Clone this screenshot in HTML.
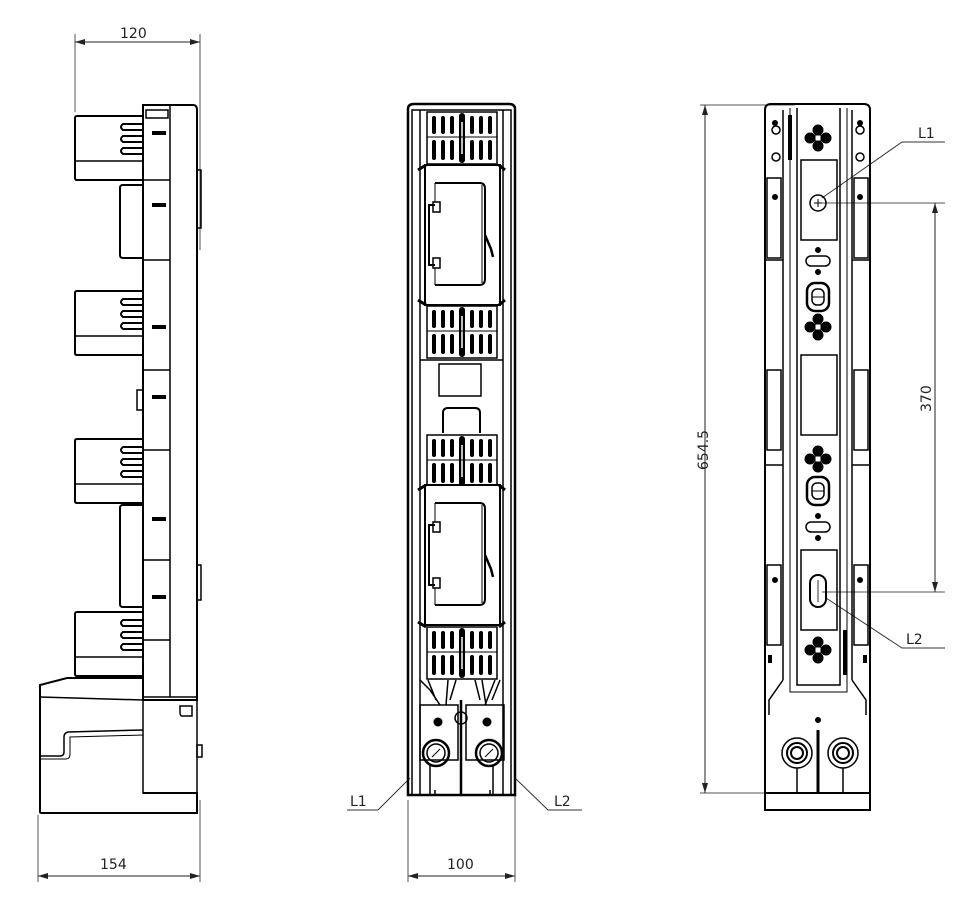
<!DOCTYPE html>
<html><head><meta charset="utf-8"><style>
html,body{margin:0;padding:0;background:#fff}
svg{display:block}
text{font-family:"DejaVu Sans","Liberation Sans",sans-serif;font-size:14px;fill:#222}
</style></head><body>
<svg width="976" height="900" viewBox="0 0 976 900" xmlns="http://www.w3.org/2000/svg">
<defs>
<marker id="ar" markerWidth="10" markerHeight="6" refX="10" refY="3" orient="auto-start-reverse" markerUnits="userSpaceOnUse"><path d="M0,0 L10,3 L0,6 z" fill="#222"/></marker>
<g id="grid">
 <rect x="0" y="0" width="70" height="52" fill="none" stroke="#000" stroke-width="1.5"/>
 <g stroke="#000" stroke-width="4" stroke-linecap="round">
  <line x1="7" y1="6" x2="7" y2="20"/><line x1="7" y1="30" x2="7" y2="46"/>
  <line x1="16" y1="6" x2="16" y2="20"/><line x1="16" y1="30" x2="16" y2="46"/>
  <line x1="25" y1="6" x2="25" y2="20"/><line x1="25" y1="30" x2="25" y2="46"/>
  <line x1="35" y1="4" x2="35" y2="48" stroke-width="6"/>
  <line x1="45" y1="6" x2="45" y2="20"/><line x1="45" y1="30" x2="45" y2="46"/>
  <line x1="54" y1="6" x2="54" y2="20"/><line x1="54" y1="30" x2="54" y2="46"/>
  <line x1="63" y1="6" x2="63" y2="20"/><line x1="63" y1="30" x2="63" y2="46"/>
 </g>
 <line x1="35" y1="10" x2="35" y2="42" stroke="#fff" stroke-width="1.5"/>
 <line x1="0" y1="25" x2="70" y2="25" stroke="#000" stroke-width="1"/>
</g>
<g id="win">
 <rect x="0" y="0" width="75" height="140" fill="#fff" stroke="#000" stroke-width="2"/>
 <path d="M10,18 H55 Q60,18 60,24 V114 Q60,120 54,120 H10" fill="none" stroke="#000" stroke-width="2"/>
 <line x1="57" y1="20" x2="57" y2="118" stroke="#000" stroke-width="1"/>
 <path d="M10,40 H4 V100 H10" fill="none" stroke="#000" stroke-width="2"/>
 <rect x="8" y="37" width="7" height="10" fill="none" stroke="#000" stroke-width="1.5"/>
 <rect x="8" y="93" width="7" height="10" fill="none" stroke="#000" stroke-width="1.5"/>
 <line x1="10" y1="18" x2="10" y2="37" stroke="#000" stroke-width="1"/>
 <line x1="10" y1="103" x2="10" y2="120" stroke="#000" stroke-width="1"/>
 <path d="M60,70 L66,84 L68,92" fill="none" stroke="#000" stroke-width="2.5"/>
</g>
<g id="block">
 <path d="M2,0 H68 V64 H2 Q0,64 0,62 V2 Q0,0 2,0 Z" fill="#fff" stroke="#000" stroke-width="2"/>
 <line x1="0" y1="45" x2="68" y2="45" stroke="#000" stroke-width="1.5"/>
 <g fill="none" stroke="#000" stroke-width="2">
  <path d="M68,8 H48 Q44,11 48,14 H68"/>
  <path d="M68,20 H48 Q44,23 48,26 H68"/>
  <path d="M68,32 H48 Q44,35 48,38 H68"/>
 </g>
</g>
<g id="clover">
 <circle cx="0" cy="-8" r="5" fill="#000"/><circle cx="0" cy="8" r="5" fill="#000"/>
 <circle cx="-8" cy="0" r="5" fill="#000"/><circle cx="8" cy="0" r="5" fill="#000"/>
 <rect x="-3" y="-3" width="6" height="6" fill="#fff"/>
</g>
</defs>

<g fill="none" stroke="#000" stroke-width="1">
<!-- ============ LEFT VIEW ============ -->
<line x1="75" y1="34" x2="75" y2="112" stroke="#555"/>
<line x1="200" y1="34" x2="200" y2="250" stroke="#555"/>
<line x1="75" y1="42" x2="200" y2="42" stroke="#222" marker-start="url(#ar)" marker-end="url(#ar)"/>
<line x1="38" y1="815" x2="38" y2="882" stroke="#555"/>
<line x1="200" y1="800" x2="200" y2="882" stroke="#555"/>
<line x1="38" y1="876" x2="200" y2="876" stroke="#222" marker-start="url(#ar)" marker-end="url(#ar)"/>

<path d="M143,105 H193 Q197,105 197,110 V700 H143 Z" stroke-width="2"/>
<line x1="170" y1="105" x2="170" y2="697" stroke-width="1.5"/>
<rect x="146" y="110" width="22" height="8" stroke-width="1.5"/>
<path d="M197,170 H201 V228 H197" stroke-width="1.5"/>
<path d="M197,565 H201 V600 H197" stroke-width="1.5"/>
<g stroke-width="1.5">
 <line x1="143" y1="180" x2="170" y2="180"/><line x1="143" y1="260" x2="170" y2="260"/>
 <line x1="143" y1="370" x2="170" y2="370"/><line x1="143" y1="450" x2="170" y2="450"/>
 <line x1="143" y1="560" x2="170" y2="560"/><line x1="143" y1="640" x2="170" y2="640"/>
</g>
<g fill="#000" stroke="none">
 <rect x="152" y="131" width="14" height="4"/><rect x="152" y="203" width="14" height="4"/>
 <rect x="152" y="325" width="14" height="4"/><rect x="152" y="395" width="14" height="4"/>
 <rect x="152" y="517" width="14" height="4"/><rect x="152" y="595" width="14" height="4"/>
</g>
<use href="#block" x="75" y="116"/>
<use href="#block" x="75" y="291"/>
<use href="#block" x="75" y="439"/>
<use href="#block" x="75" y="612"/>
<path d="M143,185 H123 Q120,185 120,188 V255 Q120,258 123,258 H143" stroke-width="2"/>
<path d="M143,505 H123 Q120,505 120,508 V604 Q120,607 123,607 H143" stroke-width="2"/>
<rect x="137" y="390" width="6" height="20" stroke-width="1.5"/>
<!-- base -->
<path d="M143,678 H67 L40,685 V812 Q40,813 42,813 H197 V793 H143" stroke-width="2"/>
<line x1="40" y1="697" x2="143" y2="700" stroke-width="1.5"/>
<path d="M143,730 L68,732 Q64,733 64,737 V752 Q64,756 60,756 H40" stroke-width="1.5"/>
<path d="M143,735 L70,737 V754 Q70,759 66,759 H40" stroke-width="1"/>
<rect x="143" y="697" width="54" height="96" stroke-width="1.5"/>
<path d="M180,706 H192 V716 H182 Q180,716 180,712 Z" stroke-width="1.5"/>
<rect x="197" y="745" width="5" height="12" stroke-width="1.5"/>

<!-- ============ MIDDLE VIEW ============ -->
<line x1="408" y1="800" x2="408" y2="882" stroke="#555"/>
<line x1="515" y1="790" x2="515" y2="882" stroke="#555"/>
<line x1="408" y1="876" x2="515" y2="876" stroke="#222" marker-start="url(#ar)" marker-end="url(#ar)"/>
<path d="M347,810 H378 L410,778" stroke="#333"/>
<path d="M582,810 H548 L515,778" stroke="#333"/>

<path d="M408,109 Q408,104 414,104 H509 Q515,104 515,109 V795 H408 Z" stroke-width="2.5"/>
<rect x="412" y="110" width="99" height="685" stroke-width="1.5"/>
<line x1="420" y1="110" x2="420" y2="795" stroke-width="1.5"/>
<line x1="503" y1="110" x2="503" y2="795" stroke-width="1.5"/>
<use href="#grid" x="427" y="112"/>
<use href="#grid" x="427" y="306"/>
<use href="#grid" x="427" y="435"/>
<use href="#grid" x="427" y="627"/>
<use href="#win" x="425" y="165"/>
<use href="#win" x="425" y="485"/>
<g stroke-width="3">
 <line x1="418" y1="170" x2="426" y2="165"/><line x1="505" y1="170" x2="499" y2="165"/>
 <line x1="418" y1="300" x2="426" y2="305"/><line x1="505" y1="300" x2="499" y2="305"/>
 <line x1="418" y1="490" x2="426" y2="485"/><line x1="505" y1="490" x2="499" y2="485"/>
 <line x1="418" y1="622" x2="426" y2="627"/><line x1="505" y1="622" x2="499" y2="627"/>
</g>
<rect x="439" y="364" width="42" height="32" stroke-width="1.5"/>
<path d="M443,433 V413 Q443,408 448,408 H475 Q480,408 480,413 V433" stroke-width="2"/>
<line x1="420" y1="360" x2="503" y2="360" stroke-width="1.5"/>
<!-- terminals -->
<g stroke-width="1.5">
 <path d="M420,680 L430,690 L440,705 M428,680 L436,700 M448,680 L446,705 M456,680 L450,700"/>
 <path d="M475,680 L480,700 M482,680 L486,705 M500,680 L492,700 M495,680 L485,705"/>
 <rect x="420" y="705" width="38" height="55"/><rect x="466" y="705" width="38" height="55"/>
 <line x1="461" y1="700" x2="461" y2="795" stroke-width="2.5"/>
 <line x1="435" y1="790" x2="435" y2="795"/><line x1="490" y1="790" x2="490" y2="795"/>
</g>
<circle cx="438" cy="722" r="4" fill="#000"/><circle cx="487" cy="722" r="4" fill="#000"/>
<circle cx="461" cy="718" r="6" stroke-width="1.5"/>
<circle cx="436" cy="753" r="13" stroke-width="2.5"/><circle cx="436" cy="753" r="9" stroke-width="1.5"/>
<circle cx="489" cy="753" r="13" stroke-width="2.5"/><circle cx="489" cy="753" r="9" stroke-width="1.5"/>
<line x1="432" y1="757" x2="440" y2="749"/><line x1="485" y1="757" x2="493" y2="749"/>
<line x1="430" y1="765" x2="430" y2="795" stroke-width="1.5"/><line x1="493" y1="765" x2="493" y2="795" stroke-width="1.5"/>

<!-- ============ RIGHT VIEW ============ -->
<line x1="700" y1="105" x2="795" y2="105" stroke="#555"/>
<line x1="700" y1="793" x2="765" y2="793" stroke="#555"/>
<line x1="705" y1="105" x2="705" y2="793" stroke="#222" marker-start="url(#ar)" marker-end="url(#ar)"/>
<line x1="822" y1="203" x2="945" y2="203" stroke="#555"/>
<line x1="822" y1="592" x2="945" y2="592" stroke="#555"/>
<line x1="935" y1="203" x2="935" y2="592" stroke="#222" marker-start="url(#ar)" marker-end="url(#ar)"/>
<path d="M945,142 H902 L822,198" stroke="#333"/>
<path d="M945,648 H902 L826,598" stroke="#333"/>

<path d="M765,110 Q765,104 771,104 H864 Q870,104 870,110 V810 H765 Z" stroke-width="2"/>
<line x1="765" y1="793" x2="870" y2="793" stroke-width="2"/>
<line x1="783" y1="110" x2="783" y2="680" stroke-width="1.5"/>
<line x1="852" y1="110" x2="852" y2="680" stroke-width="1.5"/>
<path d="M783,680 L769,700 V715 M852,680 L866,700 V715" stroke-width="1.5"/>
<path d="M797,108 V685 H840 V108" stroke-width="1.5"/>
<path d="M790,108 V692 H847 V108" stroke-width="1"/>
<g stroke-width="1.5">
 <rect x="767" y="178" width="14" height="80"/><rect x="854" y="178" width="14" height="80"/>
 <rect x="767" y="370" width="14" height="80"/><rect x="854" y="370" width="14" height="80"/>
 <rect x="767" y="565" width="14" height="80"/><rect x="854" y="565" width="14" height="80"/>
 <line x1="765" y1="260" x2="783" y2="260"/><line x1="852" y1="260" x2="870" y2="260"/>
 <line x1="765" y1="465" x2="783" y2="465"/><line x1="852" y1="465" x2="870" y2="465"/>
 <rect x="801" y="160" width="36" height="80"/>
 <rect x="801" y="355" width="36" height="80"/>
 <rect x="801" y="550" width="36" height="80"/>
</g>
<g fill="#000" stroke="none">
 <circle cx="775" cy="123" r="3"/><circle cx="860" cy="123" r="3"/>
 <circle cx="775" cy="197" r="3"/><circle cx="860" cy="197" r="3"/>
 <circle cx="775" cy="580" r="3"/><circle cx="860" cy="580" r="3"/>
 <rect x="788" y="115" width="4" height="45"/><rect x="843" y="630" width="4" height="45"/>
 <rect x="768" y="655" width="4" height="8"/><rect x="863" y="655" width="4" height="8"/>
</g>
<circle cx="776" cy="130" r="4" stroke-width="1.5"/><circle cx="860" cy="130" r="4" stroke-width="1.5"/>
<circle cx="776" cy="157" r="4" stroke-width="1.5"/><circle cx="860" cy="157" r="4" stroke-width="1.5"/>
<use href="#clover" x="818" y="138"/>
<use href="#clover" x="818" y="327"/>
<use href="#clover" x="818" y="459"/>
<use href="#clover" x="818" y="650"/>
<circle cx="818" cy="203" r="8" stroke-width="1.5"/>
<line x1="814" y1="203" x2="822" y2="203"/><line x1="818" y1="199" x2="818" y2="207"/>
<rect x="806" y="256" width="24" height="10" rx="5" stroke-width="1.5"/>
<rect x="806" y="522" width="24" height="10" rx="5" stroke-width="1.5"/>
<circle cx="818" cy="250" r="2.5" fill="#000"/><circle cx="818" cy="272" r="2.5" fill="#000"/>
<circle cx="818" cy="516" r="2.5" fill="#000"/><circle cx="818" cy="538" r="2.5" fill="#000"/>
<rect x="807" y="283" width="22" height="28" rx="8" stroke-width="2.5"/>
<rect x="812" y="289" width="12" height="16" rx="5" stroke-width="1.5"/>
<line x1="812" y1="297" x2="824" y2="297"/>
<rect x="807" y="477" width="22" height="28" rx="8" stroke-width="2.5"/>
<rect x="812" y="483" width="12" height="16" rx="5" stroke-width="1.5"/>
<line x1="812" y1="491" x2="824" y2="491"/>
<rect x="810" y="575" width="16" height="32" rx="8" stroke-width="2"/>
<line x1="818" y1="580" x2="818" y2="602" stroke-width="0.8"/>
<!-- bottom terminals right view -->
<circle cx="818" cy="720" r="2.5" fill="#000"/>
<line x1="818" y1="730" x2="818" y2="793" stroke-width="3"/>
<circle cx="797" cy="753" r="15" stroke-width="1.5"/><circle cx="797" cy="753" r="10" stroke-width="2"/><circle cx="797" cy="753" r="6" stroke-width="2"/>
<circle cx="843" cy="753" r="15" stroke-width="1.5"/><circle cx="843" cy="753" r="10" stroke-width="2"/><circle cx="843" cy="753" r="6" stroke-width="2"/>
<line x1="797" y1="768" x2="797" y2="793" stroke-width="1.5"/><line x1="843" y1="768" x2="843" y2="793" stroke-width="1.5"/>
</g>

<text x="120" y="38">120</text>
<text x="100" y="869">154</text>
<text x="447" y="869">100</text>
<text x="350" y="806">L1</text>
<text x="554" y="806">L2</text>
<text x="918" y="138">L1</text>
<text x="906" y="644">L2</text>
<text transform="translate(708,470) rotate(-90)">654.5</text>
<text transform="translate(931,412) rotate(-90)">370</text>
</svg>
</body></html>
